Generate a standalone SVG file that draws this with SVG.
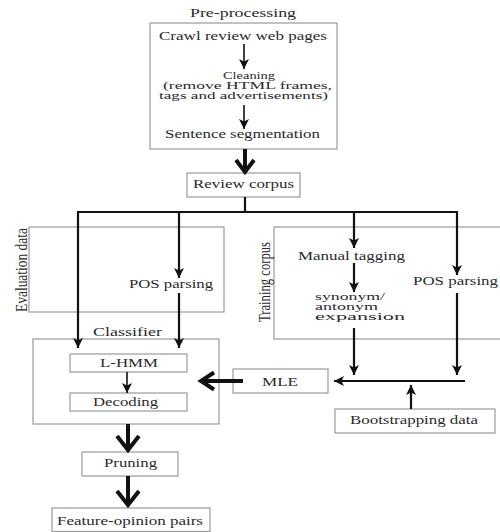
<svg xmlns="http://www.w3.org/2000/svg" width="500" height="532" viewBox="0 0 500 532">
<style>
text{font-family:"Liberation Serif","Times New Roman",serif;font-size:13px;fill:#2a2a2a}
.sm{font-size:10.5px}
.rot{font-size:17px}
.box{fill:#fff;stroke:#9a9a9a;stroke-width:1.2}
.ln{fill:none;stroke:#111;stroke-width:2.2}
.thin{fill:none;stroke:#111;stroke-width:1.6}
.thick{fill:none;stroke:#111;stroke-width:4;stroke-linejoin:miter}
</style>
<defs>
<marker id="ah" markerUnits="userSpaceOnUse" markerWidth="12" markerHeight="12" refX="10" refY="5" orient="auto">
<path d="M0,0 L10,5 L0,10 L2.5,5 Z" fill="#111"/>
</marker>
</defs>
<rect width="500" height="532" fill="#fff"/>

<g id="preprocessing">
<text x="190" y="17" textLength="106" lengthAdjust="spacingAndGlyphs">Pre-processing</text>
<rect class="box" x="150" y="23" width="187" height="126"/>
<text x="159" y="40" textLength="168" lengthAdjust="spacingAndGlyphs">Crawl review web pages</text>
<text class="sm" x="223" y="79" textLength="52" lengthAdjust="spacingAndGlyphs">Cleaning</text>
<text class="sm" x="163" y="89" textLength="169" lengthAdjust="spacingAndGlyphs">(remove HTML frames,</text>
<text class="sm" x="159" y="99" textLength="169" lengthAdjust="spacingAndGlyphs">tags and advertisements)</text>
<text x="165" y="138" textLength="155" lengthAdjust="spacingAndGlyphs">Sentence segmentation</text>
</g>

<g id="review-corpus">
<rect class="box" x="187" y="173" width="113" height="24"/>
<text x="193" y="188" textLength="101" lengthAdjust="spacingAndGlyphs">Review corpus</text>
</g>

<g id="evaluation-data">
<rect class="box" x="29" y="227" width="195" height="85"/>
<text class="rot" transform="translate(27,312) rotate(-90)" x="0" y="0" textLength="84" lengthAdjust="spacingAndGlyphs">Evaluation data</text>
<text x="129" y="288" textLength="84" lengthAdjust="spacingAndGlyphs">POS parsing</text>
</g>

<g id="training-corpus">
<rect class="box" x="274" y="227" width="230" height="112"/>
<text class="rot" transform="translate(270,322) rotate(-90)" x="0" y="0" textLength="80" lengthAdjust="spacingAndGlyphs">Training corpus</text>
<text x="298" y="260" textLength="107" lengthAdjust="spacingAndGlyphs">Manual tagging</text>
<text class="sm" x="315" y="300" textLength="70" lengthAdjust="spacingAndGlyphs">synonym/</text>
<text class="sm" x="315" y="310" textLength="63" lengthAdjust="spacingAndGlyphs">antonym</text>
<text class="sm" x="315" y="320" textLength="90" lengthAdjust="spacingAndGlyphs">expansion</text>
<text x="413" y="285" textLength="85" lengthAdjust="spacingAndGlyphs">POS parsing</text>
</g>

<g id="classifier">
<text x="93" y="336" textLength="69" lengthAdjust="spacingAndGlyphs">Classifier</text>
<rect class="box" x="33" y="339" width="186" height="85"/>
</g>
<g id="l-hmm">
<rect class="box" x="70" y="354" width="117" height="18"/>
<text x="100" y="367" textLength="58" lengthAdjust="spacingAndGlyphs">L-HMM</text>
</g>
<g id="decoding">
<rect class="box" x="70" y="393" width="117" height="18"/>
<text x="93" y="406" textLength="65" lengthAdjust="spacingAndGlyphs">Decoding</text>
</g>

<g id="mle">
<rect class="box" x="233" y="369" width="95" height="24"/>
<text x="262" y="386" textLength="36" lengthAdjust="spacingAndGlyphs">MLE</text>
</g>

<g id="bootstrapping-data">
<rect class="box" x="335" y="409" width="160" height="24"/>
<text x="350" y="424" textLength="128" lengthAdjust="spacingAndGlyphs">Bootstrapping data</text>
</g>

<g id="pruning">
<rect class="box" x="82" y="452" width="96" height="24"/>
<text x="104" y="467" textLength="53" lengthAdjust="spacingAndGlyphs">Pruning</text>
</g>

<g id="feature-opinion-pairs">
<rect class="box" x="52" y="508" width="158" height="23.5"/>
<text x="57" y="525" textLength="146" lengthAdjust="spacingAndGlyphs">Feature-opinion pairs</text>
</g>

<g id="connectors">
<line class="thin" x1="244" y1="44" x2="244" y2="69" marker-end="url(#ah)"/>
<line class="thin" x1="244" y1="105" x2="244" y2="129" marker-end="url(#ah)"/>
<line class="thick" x1="245" y1="149" x2="245" y2="171"/>
<polyline class="thick" points="236,160 245,172 254,160"/>
<line class="ln" x1="245" y1="197" x2="245" y2="212"/>
<line class="ln" x1="77" y1="212" x2="458" y2="212"/>
<line class="ln" x1="78" y1="211" x2="78" y2="348" marker-end="url(#ah)"/>
<line class="ln" x1="179" y1="212" x2="179" y2="278" marker-end="url(#ah)"/>
<line class="ln" x1="179" y1="293" x2="179" y2="348" marker-end="url(#ah)"/>
<line class="ln" x1="354" y1="212" x2="354" y2="248" marker-end="url(#ah)"/>
<line class="ln" x1="457" y1="211" x2="457" y2="275" marker-end="url(#ah)"/>
<line class="ln" x1="354" y1="263" x2="354" y2="292" marker-end="url(#ah)"/>
<line class="ln" x1="354" y1="328" x2="354" y2="375" marker-end="url(#ah)"/>
<line class="ln" x1="457" y1="293" x2="457" y2="375" marker-end="url(#ah)"/>
<line class="ln" x1="465" y1="381" x2="334" y2="381" marker-end="url(#ah)"/>
<line class="ln" x1="411" y1="409" x2="411" y2="385" marker-end="url(#ah)"/>
<line class="thin" x1="127" y1="372" x2="127" y2="393" marker-end="url(#ah)"/>
<line class="thick" x1="243" y1="381" x2="201" y2="381"/>
<polyline class="thick" points="214,372.5 201,381 214,389.5"/>
<line class="thick" x1="128" y1="424" x2="128" y2="449"/>
<polyline class="thick" points="117,436 128,450 139,436"/>
<line class="thick" x1="128" y1="476" x2="128" y2="505"/>
<polyline class="thick" points="117,491 128,505 139,491"/>
</g>
</svg>
